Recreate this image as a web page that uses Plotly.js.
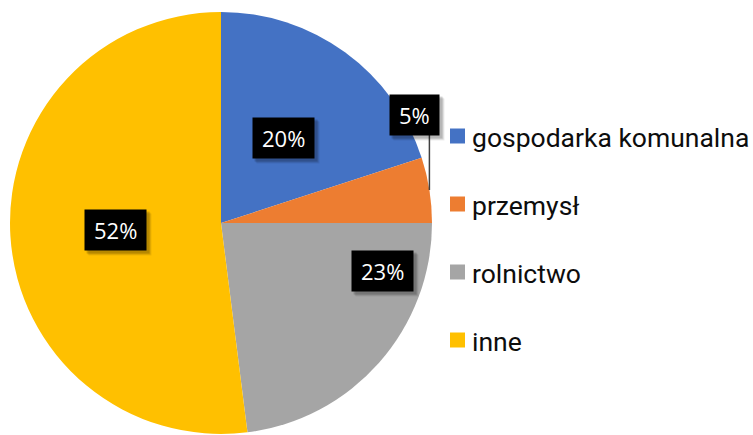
<!DOCTYPE html>
<html>
<head>
<meta charset="utf-8">
<script src="https://cdn.plot.ly/plotly-3.0.1.min.js"></script>
<style>html,body{margin:0;padding:0;background:#fff;}#chart{width:753px;height:435px;}</style>
</head>
<body>
<div id="chart"></div>
<script>
// ---- data ----
const labels = ['gospodarka komunalna', 'przemysł', 'rolnictwo', 'inne'];
const values = [20, 5, 23, 52];
const colors = ['#4472C4', '#ED7D31', '#A5A5A5', '#FFC000'];

// ---- style / layout constants ----
const W = 753, H = 435;
const pieBox = {x0: 10, x1: 432, y0: 12, y1: 434};   // pixel box of the pie
const labelFrac = [0.5, 0.5, 0.2, 0.5];   // where along each slice's arc the label sits
const labelRad  = [0.5, null, 0.8, 0.5];  // null = outside with leader line
const leaderLen = 55, outsideShift = -15;
const legendTop = 136, legendStep = 68, legendX = 450, sq = 15;

const px = x => x / W;
const py = y => 1 - y / H;

const cx = (pieBox.x0 + pieBox.x1) / 2, cy = (pieBox.y0 + pieBox.y1) / 2;
const R = Math.min(pieBox.x1 - pieBox.x0, pieBox.y1 - pieBox.y0) / 2;
const total = values.reduce((a, b) => a + b, 0);

function pt(deg, r) {
  const t = deg * Math.PI / 180;
  return [cx + r * Math.sin(t), cy - r * Math.cos(t)];
}

const annotations = [];
const shapes = [];
let cum = 0;
values.forEach((v, i) => {
  const a0 = cum / total * 360, a1 = (cum + v) / total * 360;
  cum += v;
  const ang = a0 + (a1 - a0) * labelFrac[i];
  const txt = Math.round(v / total * 100) + '%';
  let bx, by;
  if (labelRad[i] === null) {
    const p = pt(ang, R);
    shapes.push({type: 'line', xref: 'paper', yref: 'paper',
      x0: px(p[0]), y0: py(p[1]), x1: px(p[0]), y1: py(p[1] - leaderLen),
      line: {color: '#404040', width: 1.5}});
    bx = p[0] + outsideShift; by = p[1] - leaderLen - 20;
  } else {
    const p = pt(ang, R * labelRad[i]);
    bx = p[0]; by = p[1];
  }
  annotations.push({xref: 'paper', yref: 'paper', x: px(bx), y: py(by), xanchor: 'center', yanchor: 'middle',
    showarrow: false, text: txt, height: 22, borderpad: 9, bgcolor: '#000000',
    font: {family: 'Open Sans, sans-serif', size: 22, color: '#ffffff'}});
});
const nLabels = annotations.length;

// legend
labels.forEach((lab, i) => {
  const yc = legendTop + i * legendStep;
  shapes.push({type: 'rect', xref: 'paper', yref: 'paper',
    x0: px(legendX), x1: px(legendX + sq), y0: py(yc - sq / 2), y1: py(yc + sq / 2),
    fillcolor: colors[i], line: {width: 0}});
  annotations.push({xref: 'paper', yref: 'paper', x: px(legendX + sq + 5), y: py(yc + 1),
    xanchor: 'left', yanchor: 'middle', showarrow: false, text: lab,
    font: {family: 'Roboto, sans-serif', size: 26.5, color: '#0d0d0d'}});
});

const trace = {
  type: 'pie', labels: labels, values: values, sort: false, direction: 'clockwise', rotation: 0,
  marker: {colors: colors, line: {width: 0}},
  textinfo: 'none', hoverinfo: 'skip', showlegend: false,
  domain: {x: [px(pieBox.x0), px(pieBox.x1)], y: [py(pieBox.y1), py(pieBox.y0)]}
};

Plotly.newPlot('chart', [trace], {
  width: W, height: H, margin: {l: 0, r: 0, t: 0, b: 0},
  paper_bgcolor: '#ffffff', showlegend: false,
  annotations: annotations, shapes: shapes
}, {staticPlot: true}).then(gd => {
  // soft drop shadows behind the label boxes
  const host = gd.getBoundingClientRect();
  const bgs = gd.querySelectorAll('.annotation rect.bg');
  const extra = [];
  for (let k = 0; k < nLabels && k < bgs.length; k++) {
    const b = bgs[k].getBoundingClientRect();
    const l = b.left - host.left, t = b.top - host.top, r = b.right - host.left, btm = b.bottom - host.top;
    [[5, 0.07], [4, 0.1], [3, 0.14]].forEach(([o, a]) => {
      extra.push({type: 'rect', xref: 'paper', yref: 'paper',
        x0: px(l + o - 1), x1: px(r + o), y0: py(btm + o), y1: py(t + o - 1),
        fillcolor: 'rgba(0,0,0,' + a + ')', line: {width: 0}, layer: 'above'});
    });
  }
  return Plotly.relayout(gd, {shapes: shapes.concat(extra)});
});
</script>
</body>
</html>
